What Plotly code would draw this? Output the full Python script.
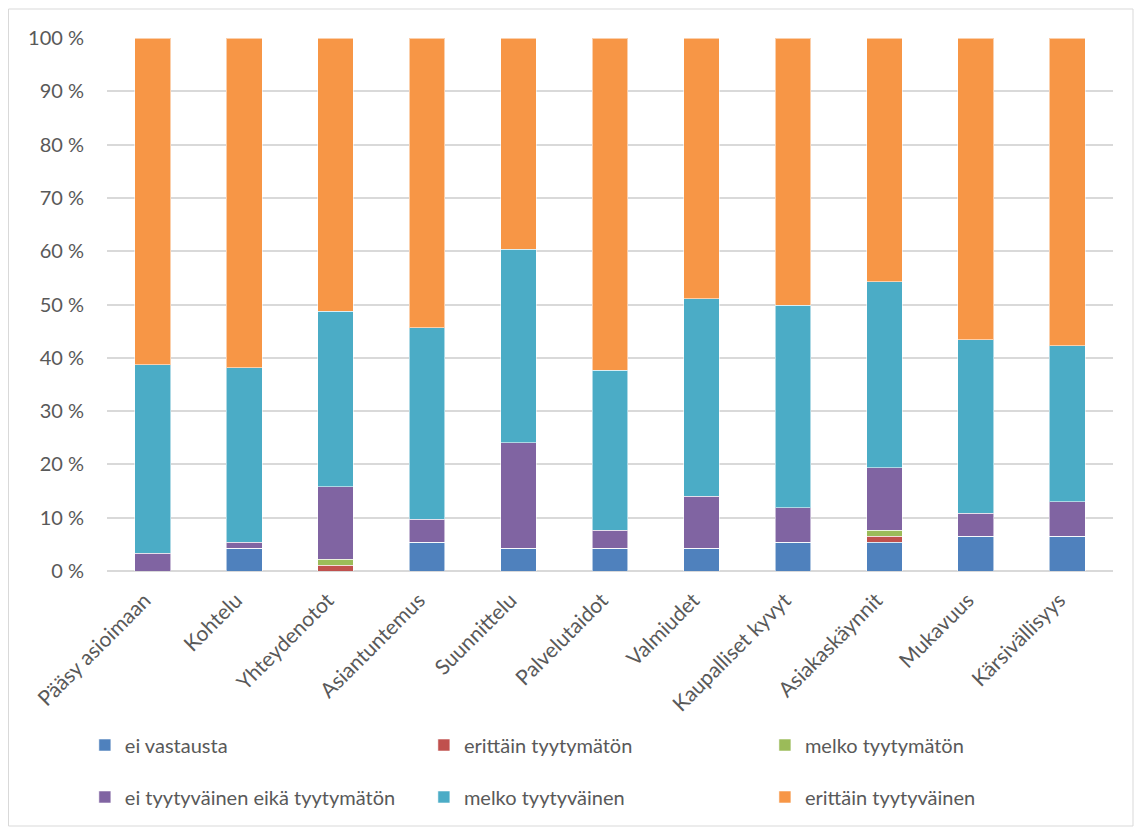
import plotly.graph_objects as go

categories = ["Pääsy asioimaan", "Kohtelu", "Yhteydenotot", "Asiantuntemus",
              "Suunnittelu", "Palvelutaidot", "Valmiudet", "Kaupalliset kyvyt",
              "Asiakaskäynnit", "Mukavuus", "Kärsivällisyys"]

ei_vastausta = [0, 4.3, 0, 5.4, 4.3, 4.3, 4.3, 5.4, 5.4, 6.5, 6.5]
erittain_tyytymaton = [0, 0, 1.1, 0, 0, 0, 0, 0, 1.1, 0, 0]
melko_tyytymaton = [0, 0, 1.1, 0, 0, 0, 0, 0, 1.1, 0, 0]
ei_tyytyvainen_eika = [3.3, 1.1, 13.6, 4.3, 19.8, 3.3, 9.7, 6.5, 11.8, 4.3, 6.5]
melko_tyytyvainen = [35.4, 32.7, 32.9, 35.9, 36.3, 30.1, 37.1, 38.0, 34.9, 32.6, 29.3]
erittain_tyytyvainen = [61.3, 61.9, 51.3, 54.4, 39.6, 62.3, 48.9, 50.1, 45.7, 56.6, 57.7]

series = [
    ("ei vastausta", ei_vastausta, "#4F81BD"),
    ("erittäin tyytymätön", erittain_tyytymaton, "#C0504D"),
    ("melko tyytymätön", melko_tyytymaton, "#9BBB59"),
    ("ei tyytyväinen eikä tyytymätön", ei_tyytyvainen_eika, "#8064A2"),
    ("melko tyytyväinen", melko_tyytyvainen, "#4BACC6"),
    ("erittäin tyytyväinen", erittain_tyytyvainen, "#F79646"),
]

FONT = "Lato, 'Liberation Sans Narrow', sans-serif"
TEXT = "#595959"

# legend grid: three columns, two rows below the plot
legend_x = [-0.022, 0.315, 0.654]
legend_y = [-0.3265, -0.424]
legend_ids = ["legend", "legend2", "legend3", "legend4", "legend5", "legend6"]

fig = go.Figure()
for i, (name, vals, color) in enumerate(series):
    fig.add_trace(go.Bar(
        x=categories, y=vals, name=name, legend=legend_ids[i],
        marker=dict(color=color, line=dict(color="rgba(255,255,255,0.55)", width=1)),
        width=0.39,
    ))

legends = {}
for i, lid in enumerate(legend_ids):
    legends[lid] = dict(
        orientation="h", xanchor="left", yanchor="middle",
        x=legend_x[i % 3], y=legend_y[i // 3],
        font=dict(family=FONT, size=20, color=TEXT),
        bgcolor="rgba(0,0,0,0)",
    )

fig.update_layout(
    width=1141, height=834,
    margin=dict(l=107, r=28, t=38, b=263),
    barmode="stack",
    plot_bgcolor="white", paper_bgcolor="white",
    font=dict(family=FONT, size=20, color=TEXT),
    showlegend=True,
    xaxis=dict(
        tickangle=-45, showgrid=False, showline=False, ticks="",
        ticklabelstandoff=12, ticklabelshift=-8,
        tickfont=dict(family=FONT, size=21, color=TEXT),
    ),
    yaxis=dict(
        range=[0, 100], dtick=10, ticksuffix=" %",
        showgrid=True, gridcolor="#D9D9D9", gridwidth=1.5,
        zeroline=True, zerolinecolor="#D9D9D9", zerolinewidth=1.5,
        showline=False, ticks="", ticklabelstandoff=22,
        tickfont=dict(family=FONT, size=20, color=TEXT),
    ),
    shapes=[dict(
        type="rect", xref="paper", yref="paper", layer="below",
        x0=(8.5 - 107) / 1006, x1=(1133 - 107) / 1006,
        y0=(571 - 826) / 533, y1=(571 - 9) / 533,
        line=dict(color="#D9D9D9", width=1), fillcolor="rgba(0,0,0,0)",
    )],
    **legends,
)

fig.write_html("out.html")
